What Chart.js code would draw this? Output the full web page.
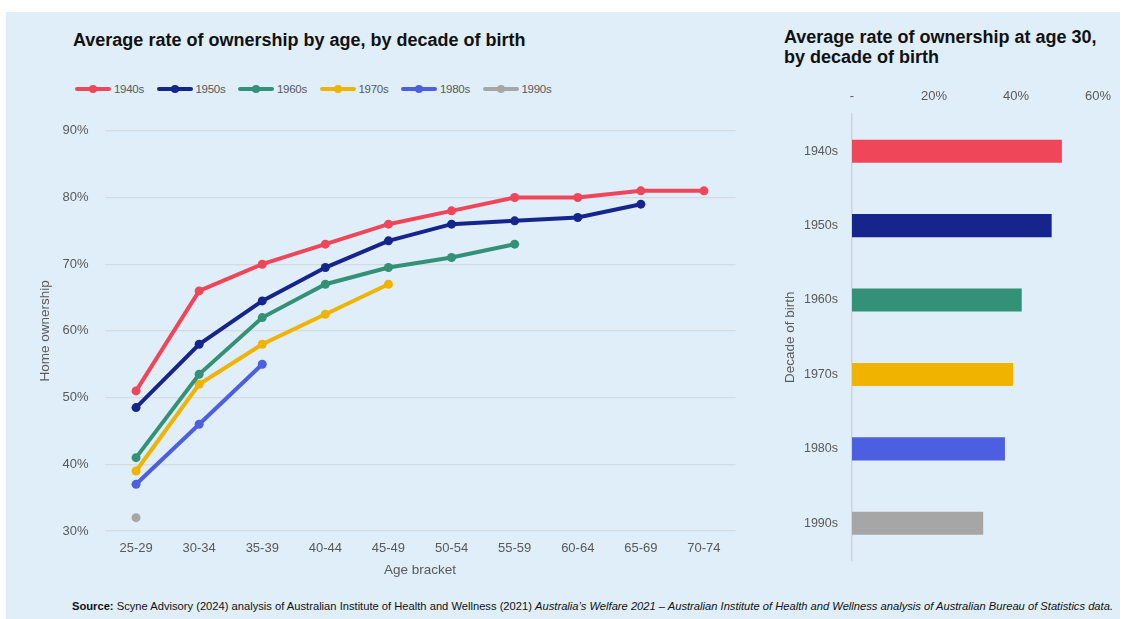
<!DOCTYPE html>
<html>
<head>
<meta charset="utf-8">
<script src="https://cdn.jsdelivr.net/npm/chart.js@4.4.1/dist/chart.umd.min.js"></script>
<style>
  html, body { margin: 0; padding: 0; background: #ffffff; }
  body { width: 1124px; height: 619px; position: relative; overflow: hidden; font-family: "Liberation Sans", Arial, sans-serif; }
  #bg { position: absolute; left: 6px; top: 12px; width: 1114px; height: 607px; background: #dfeef9; }
  .title { position: absolute; font-weight: bold; font-size: 18px; color: #111; line-height: 20px; }
  #legend { position: absolute; left: 75px; top: 80px; height: 18px; display: flex; }
  .item { width: 81.5px; display: flex; align-items: center; height: 18px; }
  .sw { position: relative; width: 36px; height: 18px; margin-right: 3px; }
  .sw .ln { position: absolute; left: 0; top: 7px; width: 36px; height: 4px; border-radius: 2px; }
  .sw .dt { position: absolute; left: 14px; top: 5px; width: 8px; height: 8px; border-radius: 4px; }
  .lt { font-size: 11.5px; color: #595959; letter-spacing: -0.3px; }
  #src { position: absolute; left: 72px; top: 600px; font-size: 10.5px; color: #111; white-space: nowrap; transform-origin: 0 0; }
  canvas { position: absolute; }
</style>
</head>
<body>
<div id="bg"></div>
<div class="title" style="left:73px; top:30px;">Average rate of ownership by age, by decade of birth</div>
<div class="title" style="left:784px; top:27px;">Average rate of ownership at age 30,<br>by decade of birth</div>
<div id="legend"></div>
<div id="wrapA" style="position:absolute; left:30px; top:107px; width:715px; height:478px;"><canvas id="lineChart"></canvas></div>
<div id="wrapB" style="position:absolute; left:770px; top:80px; width:351px; height:502px;"><canvas id="barChart"></canvas></div>
<div id="src"><b>Source:</b> Scyne Advisory (2024) analysis of Australian Institute of Health and Wellness (2021) <i>Australia’s Welfare 2021 – Australian Institute of Health and Wellness analysis of Australian Bureau of Statistics data.</i></div>
<script>
// ---- Data ----
const ageBrackets = ['25-29', '30-34', '35-39', '40-44', '45-49', '50-54', '55-59', '60-64', '65-69', '70-74'];
const decades = ['1940s', '1950s', '1960s', '1970s', '1980s', '1990s'];
const own1940s = [51, 66, 70, 73, 76, 78, 80, 80, 81, 81];
const own1950s = [48.5, 58, 64.5, 69.5, 73.5, 76, 76.5, 77, 79, null];
const own1960s = [41, 53.5, 62, 67, 69.5, 71, 73, null, null, null];
const own1970s = [39, 52, 58, 62.5, 67, null, null, null, null, null];
const own1980s = [37, 46, 55, null, null, null, null, null, null, null];
const own1990s = [32, null, null, null, null, null, null, null, null, null];
const ownAt30 = [51.2, 48.7, 41.4, 39.3, 37.3, 32];
const yTicksLine = [30, 40, 50, 60, 70, 80, 90];
const xTicksBar = [0, 20, 40, 60];

const colors = ['#f0465a', '#15258c', '#339177', '#f0b400', '#4c5fe0', '#a6a6a6'];
const seriesList = [own1940s, own1950s, own1960s, own1970s, own1980s, own1990s];

// ---- Legend (HTML text) ----
const legendEl = document.getElementById('legend');
decades.forEach((d, i) => {
  const it = document.createElement('div');
  it.className = 'item';
  it.innerHTML = '<div class="sw"><div class="ln" style="background:' + colors[i] + '"></div><div class="dt" style="background:' + colors[i] + '"></div></div><span class="lt">' + d + '</span>';
  legendEl.appendChild(it);
});

// ---- Source text fit ----
const src = document.getElementById('src');
const targetW = 1041;
const w = src.getBoundingClientRect().width;
src.style.transform = 'scaleX(' + (targetW / w) + ')';

Chart.defaults.font.family = '"Liberation Sans", Arial, sans-serif';
Chart.defaults.font.size = 13;
Chart.defaults.color = '#595959';

// ---- Line chart ----
new Chart(document.getElementById('lineChart'), {
  type: 'line',
  data: {
    labels: ageBrackets,
    datasets: seriesList.map((s, i) => ({
      label: decades[i],
      data: s,
      borderColor: colors[i],
      backgroundColor: colors[i],
      pointBackgroundColor: colors[i],
      pointBorderColor: colors[i],
      borderWidth: 4,
      pointRadius: 4.5,
      pointBorderWidth: 0,
      tension: 0,
      spanGaps: false
    }))
  },
  options: {
    responsive: true,
    maintainAspectRatio: false,
    animation: false,
    layout: { padding: { top: 6, right: 9.5, left: 0, bottom: 0 } },
    plugins: { legend: { display: false }, tooltip: { enabled: false } },
    scales: {
      x: {
        offset: true,
        grid: { display: false, drawTicks: false },
        border: { display: false },
        ticks: { padding: 10, color: '#595959', font: { size: 13 } },
        title: { display: true, text: 'Age bracket', color: '#595959', font: { size: 13.5 }, padding: { top: 4, bottom: 7 } },
        afterFit: (s) => { s.height = 54; }
      },
      y: {
        min: 30, max: 90,
        afterBuildTicks: (s) => { s.ticks = yTicksLine.map(v => ({ value: v })); },
        grid: { color: '#d6dbe0', lineWidth: 1.2, drawTicks: false },
        border: { display: false },
        ticks: { padding: 16, color: '#595959', font: { size: 13 }, callback: (v) => v + '%' },
        title: { display: true, text: 'Home ownership', color: '#595959', font: { size: 13.5 }, padding: { top: 7, bottom: 0 } },
        afterFit: (s) => { s.width = 74.5; }
      }
    }
  }
});

// ---- Bar chart ----
new Chart(document.getElementById('barChart'), {
  type: 'bar',
  data: {
    labels: decades,
    datasets: [{
      label: 'Ownership at age 30',
      data: ownAt30,
      backgroundColor: colors,
      borderWidth: 0,
      barPercentage: 0.31,
      categoryPercentage: 1
    }]
  },
  options: {
    indexAxis: 'y',
    responsive: true,
    maintainAspectRatio: false,
    animation: false,
    layout: { padding: { top: 0, right: 4, left: 0, bottom: 11 } },
    plugins: { legend: { display: false }, tooltip: { enabled: false } },
    scales: {
      x: {
        position: 'top',
        min: 0, max: 60,
        afterBuildTicks: (s) => { s.ticks = xTicksBar.map(v => ({ value: v })); },
        grid: { display: false, drawTicks: false },
        border: { display: false },
        ticks: { padding: 10, color: '#595959', font: { size: 13 }, callback: (v) => v === 0 ? '-' : v + '%' },
        afterFit: (s) => { s.height = 34; }
      },
      y: {
        grid: { display: false, drawTicks: false },
        border: { display: true, color: '#cfd4d9', width: 1.5 },
        ticks: { padding: 14, color: '#595959', font: { size: 12.5 } },
        title: { display: true, text: 'Decade of birth', color: '#595959', font: { size: 13.5 }, padding: { top: 12, bottom: 0 } },
        afterFit: (s) => { s.width = 82; }
      }
    }
  }
});
</script>
</body>
</html>
